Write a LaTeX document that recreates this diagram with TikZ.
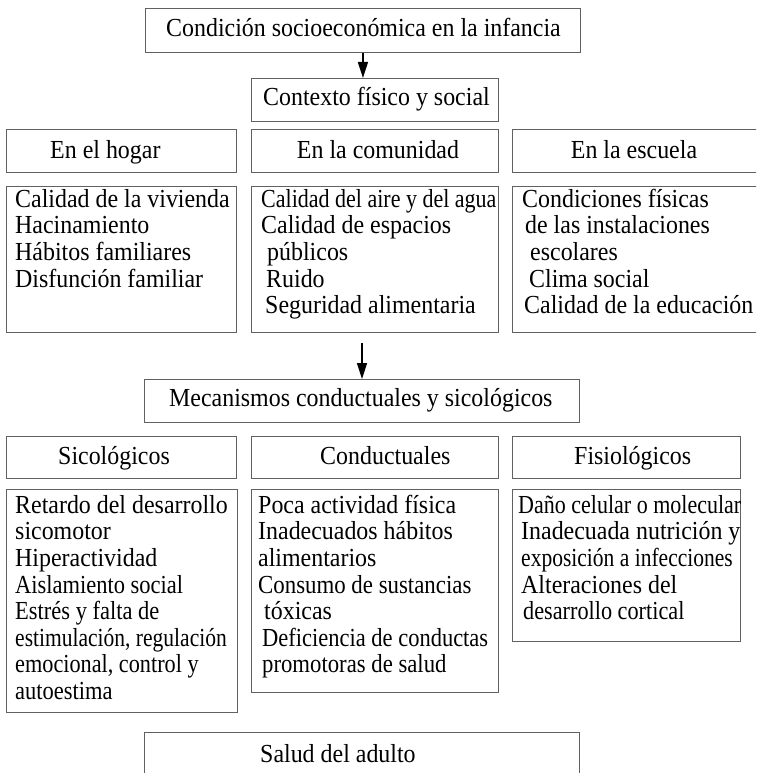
\documentclass[tikz,border=0pt]{standalone}
\usepackage{fontspec}
\setmainfont{Liberation Serif}[FakeStretch=0.92]
\usepackage{graphicx}
\usetikzlibrary{arrows.meta}
\begin{document}
\begin{tikzpicture}[x=1pt,y=-1pt,
  box/.style={draw=black!62, line width=0.9pt, inner sep=0pt, anchor=north west},
  txt/.style={inner sep=0pt, font=\fontsize{26}{26.6}\selectfont, text=black},
  lst/.style={txt, anchor=north west, align=left},
  arr/.style={draw=black, line width=1.4pt, -{Triangle[length=16pt,width=10pt]}}]
\useasboundingbox (0,0) rectangle (756,773);
\clip (0,0) rectangle (756,773);
\fill[white] (0,0) rectangle (756,773);

% top
\node[box, minimum width=435pt, minimum height=44pt] (b1) at (145,8) {};
\node[txt, anchor=base west] (t1) at (166,37) {Condición socioeconómica en la infancia};
\node[box, minimum width=247pt, minimum height=43pt] (b2) at (251,78) {};
\node[txt, anchor=base west] (t2) at (263,106) {Contexto físico y social};

% row 1 headers
\node[box, minimum width=230pt, minimum height=43pt] (h1) at (6,129) {};
\node[box, minimum width=247pt, minimum height=43pt] (h2) at (251,129) {};
\node[box, minimum width=250pt, minimum height=43pt] (h3) at (512,129) {};
\node[txt, anchor=base west] (th1) at (50,158) {En el hogar};
\node[txt, anchor=base] (th2) at (378,158) {En la comunidad};
\node[txt, anchor=base] (th3) at (634,158) {En la escuela};

% row 1 contents
\node[box, minimum width=230pt, minimum height=146pt] (c1) at (6,186) {};
\node[box, minimum width=247pt, minimum height=146pt] (c2) at (251,186) {};
\node[box, minimum width=250pt, minimum height=146pt] (c3) at (512,186) {};
\node[lst] (tc1) at (15,186.5) {\rule{0pt}{20.5pt}Calidad de la vivienda\\Hacinamiento\\Hábitos familiares\\Disfunción familiar};
\node[lst] (tc2) at (261,186.5) {\rule{0pt}{20.5pt}\scalebox{0.92}[1]{Calidad del aire y del agua}\\Calidad de espacios\\\hspace*{6pt}públicos\\\hspace*{5pt}Ruido\\\hspace*{4pt}Seguridad alimentaria};
\node[lst] (tc3) at (522,186.5) {\rule{0pt}{20.5pt}Condiciones físicas\\\hspace*{3pt}de las instalaciones\\\hspace*{8pt}escolares\\\hspace*{7pt}Clima social\\\hspace*{2pt}Calidad de la educación};

% middle
\coordinate (a2) at (362,343);
\node[box, minimum width=435pt, minimum height=43pt] (b3) at (144,379) {};
\node[txt, anchor=base west] (t3) at (169,406) {Mecanismos conductuales y sicológicos};

% row 2 headers
\node[box, minimum width=230pt, minimum height=42pt] (s1) at (6,436) {};
\node[box, minimum width=247pt, minimum height=42pt] (s2) at (251,436) {};
\node[box, minimum width=228pt, minimum height=42pt] (s3) at (512,436) {};
\node[txt, anchor=base west] (ts1) at (58,464) {Sicológicos};
\node[txt, anchor=base west] (ts2) at (320,464) {Conductuales};
\node[txt, anchor=base west] (ts3) at (574,464) {Fisiológicos};

% row 2 contents
\node[box, minimum width=231pt, minimum height=223pt] (d1) at (6,489) {};
\node[box, minimum width=247pt, minimum height=203pt] (d2) at (251,489) {};
\node[box, minimum width=228pt, minimum height=152pt] (d3) at (512,489) {};
\node[lst] (td1) at (15,492.5) {\rule{0pt}{20.5pt}Retardo del desarrollo\\sicomotor\\Hiperactividad\\\scalebox{0.94}[1]{Aislamiento social}\\\scalebox{0.94}[1]{Estrés y falta de}\\\scalebox{0.9}[1]{estimulación, regulación}\\\scalebox{0.93}[1]{emocional, control y}\\\scalebox{0.94}[1]{autoestima}};
\node[lst] (td2) at (258,492.5) {\rule{0pt}{20.5pt}Poca actividad física\\Inadecuados hábitos\\alimentarios\\\scalebox{0.955}[1]{Consumo de sustancias}\\\hspace*{6pt}tóxicas\\\hspace*{4pt}\scalebox{0.94}[1]{Deficiencia de conductas}\\\hspace*{4pt}\scalebox{0.95}[1]{promotoras de salud}};
\node[lst] (td3) at (518,492.5) {\rule{0pt}{20.5pt}\scalebox{0.92}[1]{Daño celular o molecular}\\\hspace*{3pt}Inadecuada nutrición y\\\hspace*{3pt}\scalebox{0.9}[1]{exposición a infecciones}\\\hspace*{3pt}Alteraciones del\\\hspace*{5pt}\scalebox{0.93}[1]{desarrollo cortical}};

% bottom
\node[box, minimum width=435pt, minimum height=80pt] (b4) at (144,732) {};
\node[txt, anchor=base west] (t4) at (260,762) {Salud del adulto};

% arrows
\draw[arr] (b1.south) -- (b1.south |- b2.north);
\draw[arr] (a2) -- (a2 |- b3.north);
\end{tikzpicture}
\end{document}
